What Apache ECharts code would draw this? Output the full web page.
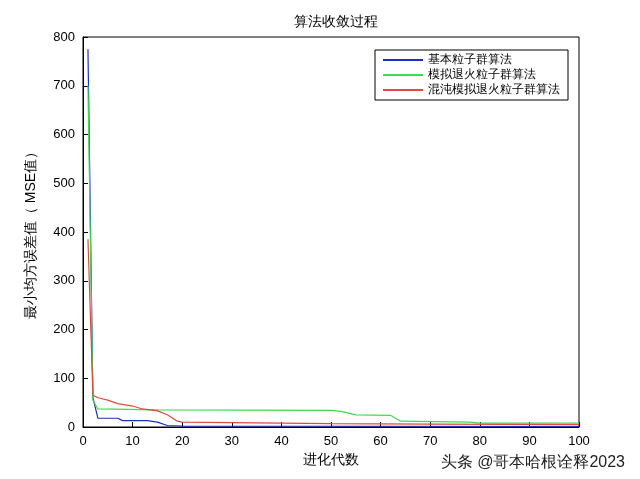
<!DOCTYPE html><html><head><meta charset="utf-8"><script src="https://cdn.jsdelivr.net/npm/echarts@6/dist/echarts.min.js"></script></head><body style="margin:0;background:#fff"><div id="c" style="width:640px;height:479px"></div><script>
const blueKeys=[[1,775],[2,60],[3,18],[7,18],[8,13],[13,13],[15,10],[17,3],[20,2],[100,1]];
const greenKeys=[[1,700],[2,55],[3,37],[15,35],[50,34],[52,32],[55,25],[62,24],[64,12],[78,10],[80,8],[100,8]];
const redKeys=[[1,385],[2,65],[3,60],[5,55],[7,48],[10,43],[12,37],[15,33],[17,25],[19,12],[20,10],[30,9],[50,7],[70,6],[100,5]];
const names=['基本粒子群算法','模拟退火粒子群算法','混沌模拟退火粒子群算法'];
const colors=['#1f2fbf','#3ddc50','#e04a40'];
const ch=echarts.init(document.getElementById('c'));
const ax={axisLine:{lineStyle:{color:'#000'}},axisTick:{inside:true,lineStyle:{color:'#000'}},axisLabel:{color:'#000',fontSize:13},splitLine:{show:false}};
ch.setOption({animation:false,
title:{text:'算法收敛过程',left:331,top:10,textAlign:'center',textStyle:{fontSize:14,fontWeight:'normal',color:'#000'}},
legend:{orient:'vertical',right:72,top:50,backgroundColor:'#fff',borderColor:'#000',borderWidth:1,padding:[4,8],itemGap:3,itemWidth:40,itemHeight:2,icon:'rect',textStyle:{fontSize:12,color:'#000'}},
grid:{left:83,right:61,top:37,bottom:52},
xAxis:Object.assign({type:'value',min:0,max:100,interval:10,name:'进化代数',nameLocation:'middle',nameGap:26,nameTextStyle:{fontSize:14,color:'#000'}},ax),
yAxis:Object.assign({type:'value',min:0,max:800,interval:100,name:'最小均方误差值（ MSE值）',nameLocation:'middle',nameGap:45,nameTextStyle:{fontSize:14,color:'#000'}},ax),
graphic:[{type:'text',right:15,bottom:8,style:{text:'头条 @哥本哈根诠释2023',fontSize:16,fill:'#222'}},
{type:'rect',shape:{x:83,y:37,width:496,height:390},style:{fill:'none',stroke:'#000'},silent:true}],
series:[blueKeys,greenKeys,redKeys].map((d,i)=>({name:names[i],type:'line',data:d,showSymbol:false,lineStyle:{width:1.2,color:colors[i]},itemStyle:{color:colors[i]}}))});
</script></body></html>
